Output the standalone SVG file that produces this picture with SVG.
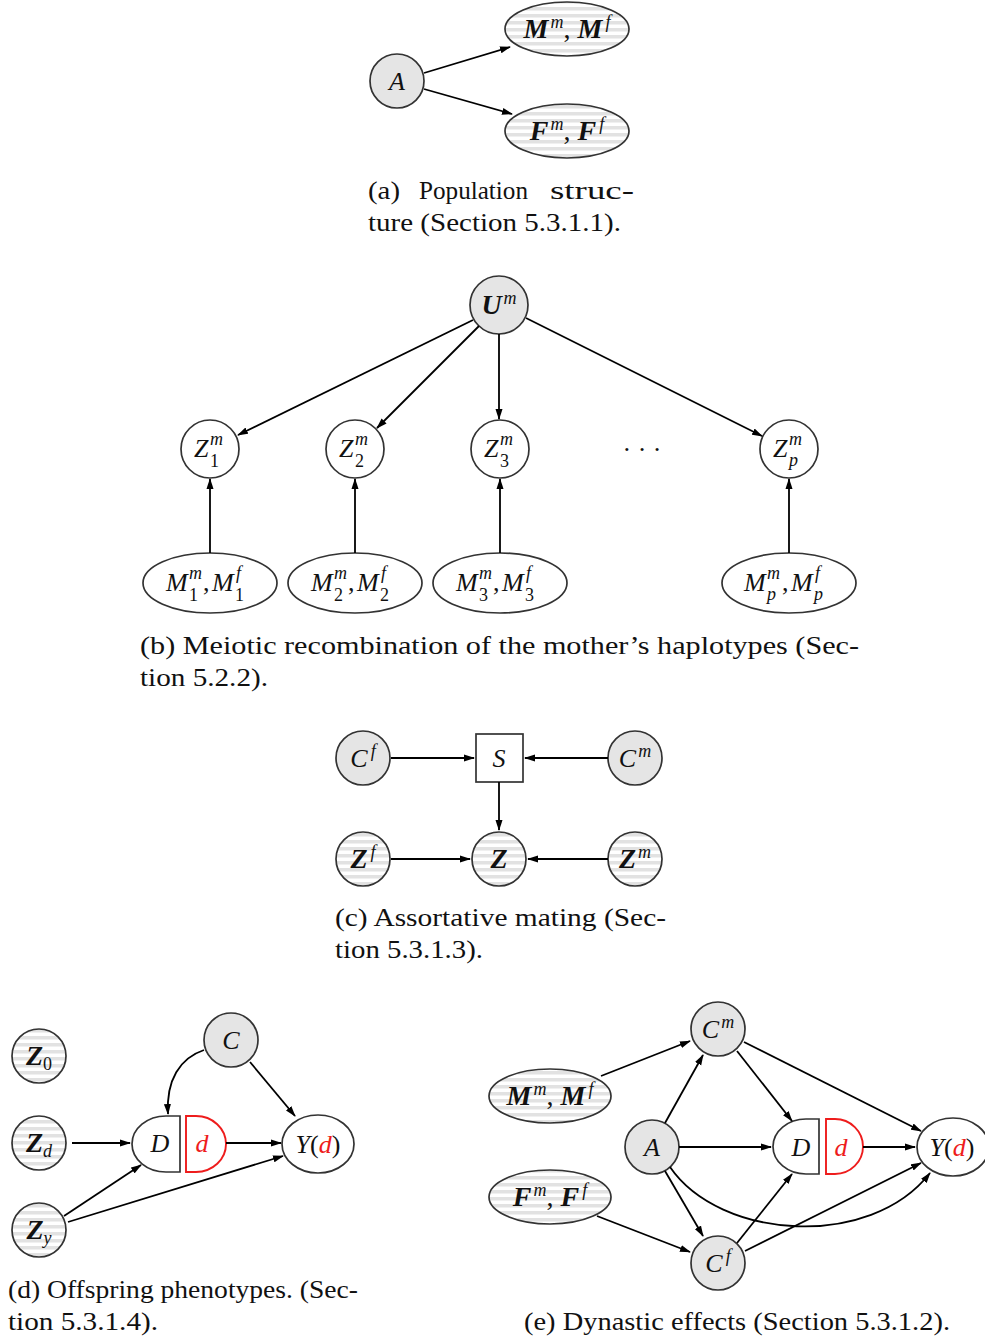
<svg xmlns="http://www.w3.org/2000/svg" width="985" height="1339" viewBox="0 0 985 1339">
  <defs>
    <style>
      .t { font-family: "Liberation Serif", "Times New Roman", serif; font-size: 26px; fill: #111; }
      .i { font-style: italic; }
      .b { font-weight: bold; font-style: italic; font-size: 28px; }
      .s { font-size: 18px; font-weight: normal; font-style: italic; }
      .r { font-style: normal; font-weight: normal; }
      .red { fill: #ee1c1c; }
      .cap { font-family: "Liberation Serif", "Times New Roman", serif; font-size: 25px; fill: #111; }
      .gray { fill: #e5e5e5; stroke: #333; stroke-width: 1.7; }
      .plain { fill: #fff; stroke: #333; stroke-width: 1.7; }
      .striped { fill: url(#stripes); stroke: #333; stroke-width: 1.7; }
      .half-red { fill: #fff; stroke: #ee1c1c; stroke-width: 1.9; }
      .edge { fill: none; stroke: #000; stroke-width: 1.8; marker-end: url(#ah); }
    </style>
    <pattern id="stripes" patternUnits="userSpaceOnUse" width="10" height="7">
      <rect width="10" height="7" fill="#fff"/>
      <rect width="10" height="3.5" fill="#e2e2e2"/>
    </pattern>
    <marker id="ah" markerWidth="11" markerHeight="8" refX="10" refY="4" orient="auto" markerUnits="userSpaceOnUse">
      <path d="M0,0.5 L11,4 L0,7.5 Z" fill="#000"/>
    </marker>
  </defs>

  <!-- (a) population structure -->
  <g id="a-A"><circle class="gray" cx="397" cy="81" r="27"/><text class="t i" x="397" y="90" text-anchor="middle">A</text></g>
  <g id="a-M"><ellipse class="striped" cx="567" cy="29" rx="62" ry="27"/>
    <text class="t b" x="567" y="38" text-anchor="middle">M<tspan class="s" dx="2" dy="-10">m</tspan><tspan class="r" dy="10">, </tspan>M<tspan class="s" dx="3" dy="-10">f</tspan></text></g>
  <g id="a-F"><ellipse class="striped" cx="567" cy="131" rx="62" ry="27"/>
    <text class="t b" x="567" y="140" text-anchor="middle">F<tspan class="s" dx="2" dy="-10">m</tspan><tspan class="r" dy="10">, </tspan>F<tspan class="s" dx="3" dy="-10">f</tspan></text></g>
  <g id="a-edges">
    <line class="edge" x1="424" y1="73" x2="510" y2="47"/>
    <line class="edge" x1="424" y1="89" x2="512" y2="114"/>
  </g>
  <g id="a-caption">
    <text class="cap" x="368" y="199" textLength="32" lengthAdjust="spacingAndGlyphs">(a)</text>
    <text class="cap" x="419" y="199" textLength="109" lengthAdjust="spacingAndGlyphs">Population</text>
    <text class="cap" x="550" y="199" textLength="84" lengthAdjust="spacingAndGlyphs">struc-</text>
    <text class="cap" x="368" y="231" textLength="253" lengthAdjust="spacingAndGlyphs">ture (Section 5.3.1.1).</text>
  </g>

  <!-- (b) meiotic recombination -->
  <g id="b-U"><circle class="gray" cx="499" cy="305" r="29"/>
    <text class="t b" x="499" y="314" text-anchor="middle">U<tspan class="s" dx="2" dy="-10">m</tspan></text></g>
  <g id="b-Z1"><circle class="plain" cx="210" cy="449" r="29"/>
    <text class="t i"><tspan x="194" y="457">Z</tspan><tspan class="s" x="210" y="445">m</tspan><tspan class="s r" x="210" y="467">1</tspan></text></g>
  <g id="b-Z2"><circle class="plain" cx="355" cy="449" r="29"/>
    <text class="t i"><tspan x="339" y="457">Z</tspan><tspan class="s" x="355" y="445">m</tspan><tspan class="s r" x="355" y="467">2</tspan></text></g>
  <g id="b-Z3"><circle class="plain" cx="500" cy="449" r="29"/>
    <text class="t i"><tspan x="484" y="457">Z</tspan><tspan class="s" x="500" y="445">m</tspan><tspan class="s r" x="500" y="467">3</tspan></text></g>
  <g id="b-dots"><text class="t" x="642" y="458" text-anchor="middle">· · ·</text></g>
  <g id="b-Zp"><circle class="plain" cx="789" cy="449" r="29"/>
    <text class="t i"><tspan x="773" y="457">Z</tspan><tspan class="s" x="789" y="445">m</tspan><tspan class="s" x="789" y="466">p</tspan></text></g>

  <g id="b-M1"><ellipse class="plain" cx="210" cy="583" rx="67" ry="30"/>
    <text class="t i"><tspan x="166" y="591">M</tspan><tspan class="s" x="189" y="579">m</tspan><tspan class="s r" x="189" y="601">1</tspan><tspan class="r" x="203" y="591">,</tspan><tspan x="212" y="591">M</tspan><tspan class="s" x="236" y="579">f</tspan><tspan class="s r" x="235" y="601">1</tspan></text></g>
  <g id="b-M2"><ellipse class="plain" cx="355" cy="583" rx="67" ry="30"/>
    <text class="t i"><tspan x="311" y="591">M</tspan><tspan class="s" x="334" y="579">m</tspan><tspan class="s r" x="334" y="601">2</tspan><tspan class="r" x="348" y="591">,</tspan><tspan x="357" y="591">M</tspan><tspan class="s" x="381" y="579">f</tspan><tspan class="s r" x="380" y="601">2</tspan></text></g>
  <g id="b-M3"><ellipse class="plain" cx="500" cy="583" rx="67" ry="30"/>
    <text class="t i"><tspan x="456" y="591">M</tspan><tspan class="s" x="479" y="579">m</tspan><tspan class="s r" x="479" y="601">3</tspan><tspan class="r" x="493" y="591">,</tspan><tspan x="502" y="591">M</tspan><tspan class="s" x="526" y="579">f</tspan><tspan class="s r" x="525" y="601">3</tspan></text></g>
  <g id="b-Mp"><ellipse class="plain" cx="789" cy="583" rx="67" ry="30"/>
    <text class="t i"><tspan x="744" y="591">M</tspan><tspan class="s" x="767" y="579">m</tspan><tspan class="s" x="767" y="600">p</tspan><tspan class="r" x="782" y="591">,</tspan><tspan x="791" y="591">M</tspan><tspan class="s" x="815" y="579">f</tspan><tspan class="s" x="814" y="600">p</tspan></text></g>

  <g id="b-edges">
    <line class="edge" x1="473" y1="320" x2="238" y2="435"/>
    <line class="edge" x1="479" y1="326" x2="377" y2="428"/>
    <line class="edge" x1="499" y1="334" x2="499" y2="419"/>
    <line class="edge" x1="526" y1="318" x2="762" y2="436"/>
    <line class="edge" x1="210" y1="553" x2="210" y2="479"/>
    <line class="edge" x1="355" y1="553" x2="355" y2="479"/>
    <line class="edge" x1="500" y1="553" x2="500" y2="479"/>
    <line class="edge" x1="789" y1="553" x2="789" y2="479"/>
  </g>
  <g id="b-caption">
    <text class="cap" x="140" y="654" textLength="719" lengthAdjust="spacingAndGlyphs">(b) Meiotic recombination of the mother’s haplotypes (Sec-</text>
    <text class="cap" x="140" y="686" textLength="128" lengthAdjust="spacingAndGlyphs">tion 5.2.2).</text>
  </g>

  <!-- (c) assortative mating -->
  <g id="c-Cf"><circle class="gray" cx="363" cy="758" r="27"/>
    <text class="t i" x="363" y="767" text-anchor="middle">C<tspan class="s" dx="3" dy="-10">f</tspan></text></g>
  <g id="c-S"><rect x="476" y="734" width="47" height="48" fill="#fff" stroke="#333" stroke-width="1.7"/>
    <text class="t i" x="499" y="767" text-anchor="middle">S</text></g>
  <g id="c-Cm"><circle class="gray" cx="635" cy="758" r="27"/>
    <text class="t i" x="635" y="767" text-anchor="middle">C<tspan class="s" dx="2" dy="-10">m</tspan></text></g>
  <g id="c-Zf"><circle class="striped" cx="363" cy="859" r="27"/>
    <text class="t b" x="363" y="868" text-anchor="middle">Z<tspan class="s" dx="3" dy="-10">f</tspan></text></g>
  <g id="c-Z"><circle class="striped" cx="499" cy="859" r="27"/>
    <text class="t b" x="499" y="868" text-anchor="middle">Z</text></g>
  <g id="c-Zm"><circle class="striped" cx="635" cy="859" r="27"/>
    <text class="t b" x="635" y="868" text-anchor="middle">Z<tspan class="s" dx="2" dy="-10">m</tspan></text></g>
  <g id="c-edges">
    <line class="edge" x1="391" y1="758" x2="474" y2="758"/>
    <line class="edge" x1="608" y1="758" x2="525" y2="758"/>
    <line class="edge" x1="499" y1="782" x2="499" y2="830"/>
    <line class="edge" x1="391" y1="859" x2="470" y2="859"/>
    <line class="edge" x1="608" y1="859" x2="528" y2="859"/>
  </g>
  <g id="c-caption">
    <text class="cap" x="335" y="926" textLength="331" lengthAdjust="spacingAndGlyphs">(c) Assortative mating (Sec-</text>
    <text class="cap" x="335" y="958" textLength="148" lengthAdjust="spacingAndGlyphs">tion 5.3.1.3).</text>
  </g>

  <!-- (d) offspring phenotypes -->
  <g id="d-Z0"><circle class="striped" cx="39" cy="1056" r="27"/>
    <text class="t b" x="39" y="1065" text-anchor="middle">Z<tspan class="s r" dy="5">0</tspan></text></g>
  <g id="d-Zd"><circle class="striped" cx="39" cy="1143" r="27"/>
    <text class="t b" x="39" y="1152" text-anchor="middle">Z<tspan class="s" dy="5">d</tspan></text></g>
  <g id="d-Zy"><circle class="striped" cx="39" cy="1230" r="27"/>
    <text class="t b" x="39" y="1239" text-anchor="middle">Z<tspan class="s" dy="5">y</tspan></text></g>
  <g id="d-C"><circle class="gray" cx="231" cy="1040" r="27"/>
    <text class="t i" x="231" y="1049" text-anchor="middle">C</text></g>
  <g id="d-D"><path class="plain" d="M180,1116 H166 A34,28 0 0 0 166,1172 H180 Z"/>
    <text class="t i" x="160" y="1152" text-anchor="middle">D</text></g>
  <g id="d-d"><path class="half-red" d="M186,1116 H196 A30,28 0 0 1 196,1172 H186 Z"/>
    <text class="t i red" x="202" y="1152" text-anchor="middle">d</text></g>
  <g id="d-Y"><ellipse class="plain" cx="318" cy="1144" rx="36" ry="29"/>
    <text class="t i" x="318" y="1153" text-anchor="middle">Y<tspan class="r">(</tspan><tspan class="red">d</tspan><tspan class="r">)</tspan></text></g>
  <g id="d-edges">
    <path class="edge" d="M204,1050 C180,1058 166,1080 168,1114"/>
    <line class="edge" x1="250" y1="1062" x2="295" y2="1116"/>
    <line class="edge" x1="72" y1="1143" x2="130" y2="1143"/>
    <line class="edge" x1="226" y1="1143" x2="281" y2="1143"/>
    <line class="edge" x1="64" y1="1216" x2="141" y2="1165"/>
    <line class="edge" x1="68" y1="1222" x2="283" y2="1156"/>
  </g>
  <g id="d-caption">
    <text class="cap" x="8" y="1298" textLength="350" lengthAdjust="spacingAndGlyphs">(d) Offspring phenotypes. (Sec-</text>
    <text class="cap" x="8" y="1330" textLength="150" lengthAdjust="spacingAndGlyphs">tion 5.3.1.4).</text>
  </g>

  <!-- (e) dynastic effects -->
  <g id="e-Cm"><circle class="gray" cx="718" cy="1029" r="27"/>
    <text class="t i" x="718" y="1038" text-anchor="middle">C<tspan class="s" dx="2" dy="-10">m</tspan></text></g>
  <g id="e-M"><ellipse class="striped" cx="550" cy="1096" rx="61" ry="27"/>
    <text class="t b" x="550" y="1105" text-anchor="middle">M<tspan class="s" dx="2" dy="-10">m</tspan><tspan class="r" dy="10">, </tspan>M<tspan class="s" dx="3" dy="-10">f</tspan></text></g>
  <g id="e-A"><circle class="gray" cx="652" cy="1147" r="27"/>
    <text class="t i" x="652" y="1156" text-anchor="middle">A</text></g>
  <g id="e-F"><ellipse class="striped" cx="550" cy="1197" rx="61" ry="27"/>
    <text class="t b" x="550" y="1206" text-anchor="middle">F<tspan class="s" dx="2" dy="-10">m</tspan><tspan class="r" dy="10">, </tspan>F<tspan class="s" dx="3" dy="-10">f</tspan></text></g>
  <g id="e-Cf"><circle class="gray" cx="718" cy="1263" r="27"/>
    <text class="t i" x="718" y="1272" text-anchor="middle">C<tspan class="s" dx="3" dy="-10">f</tspan></text></g>
  <g id="e-D"><path class="plain" d="M819,1119 H806 A33,27.5 0 0 0 806,1174 H819 Z"/>
    <text class="t i" x="801" y="1156" text-anchor="middle">D</text></g>
  <g id="e-d"><path class="half-red" d="M826,1119 H835 A28,27.5 0 0 1 835,1174 H826 Z"/>
    <text class="t i red" x="841" y="1156" text-anchor="middle">d</text></g>
  <g id="e-Y"><ellipse class="plain" cx="953" cy="1147" rx="36" ry="29"/>
    <text class="t i" x="952" y="1156" text-anchor="middle">Y<tspan class="r">(</tspan><tspan class="red">d</tspan><tspan class="r">)</tspan></text></g>
  <g id="e-edges">
    <line class="edge" x1="601" y1="1076" x2="690" y2="1041"/>
    <line class="edge" x1="665" y1="1123" x2="703" y2="1055"/>
    <line class="edge" x1="737" y1="1051" x2="792" y2="1121"/>
    <line class="edge" x1="744" y1="1042" x2="921" y2="1131"/>
    <line class="edge" x1="679" y1="1147" x2="771" y2="1147"/>
    <line class="edge" x1="863" y1="1147" x2="915" y2="1147"/>
    <line class="edge" x1="665" y1="1171" x2="703" y2="1236"/>
    <line class="edge" x1="597" y1="1216" x2="690" y2="1252"/>
    <line class="edge" x1="737" y1="1243" x2="792" y2="1174"/>
    <line class="edge" x1="745" y1="1251" x2="921" y2="1163"/>
    <path class="edge" d="M670,1167 C720,1240 870,1250 930,1173"/>
  </g>
  <g id="e-caption">
    <text class="cap" x="524" y="1330" textLength="426" lengthAdjust="spacingAndGlyphs">(e) Dynastic effects (Section 5.3.1.2).</text>
  </g>
</svg>
